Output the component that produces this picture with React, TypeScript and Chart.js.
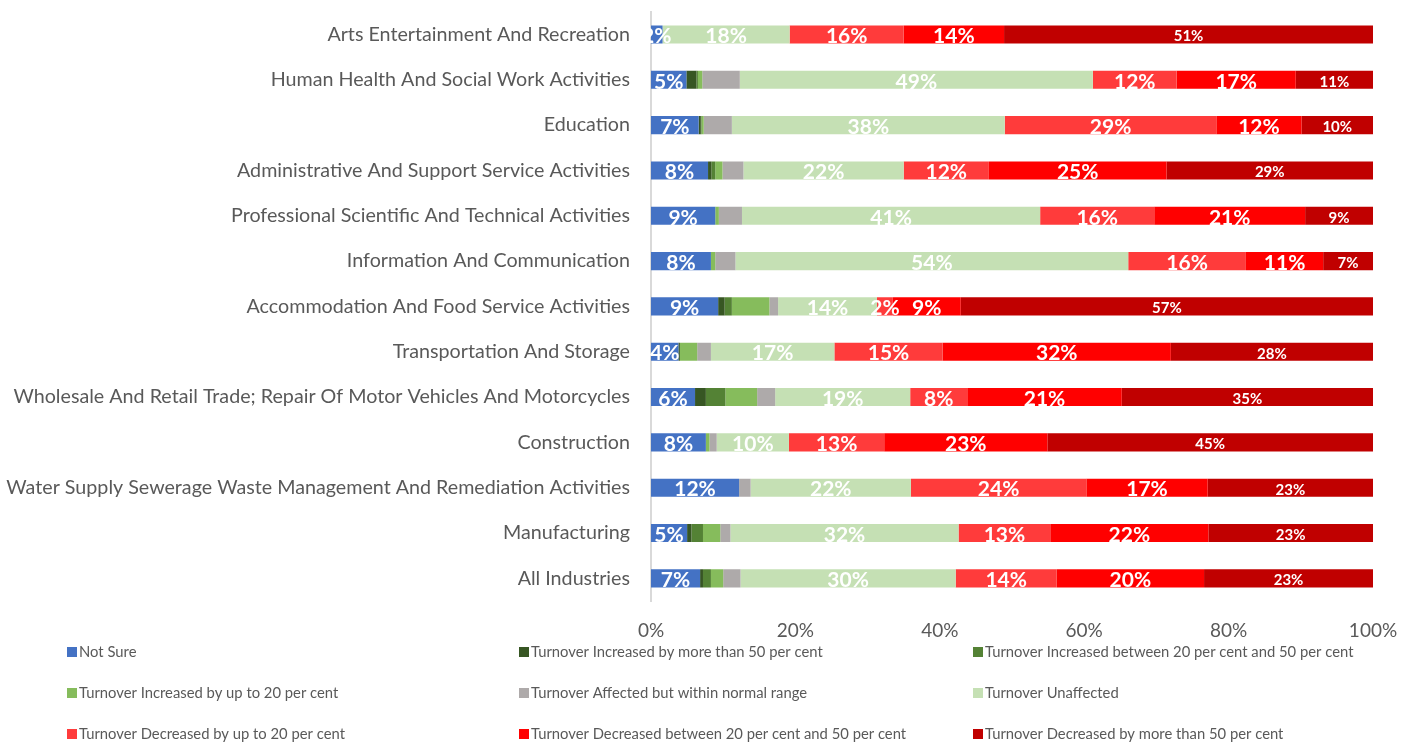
import React, { useEffect, useRef } from "react";
import { Chart, registerables } from "chart.js";

Chart.register(...registerables);

const categories = [
  "Arts Entertainment And Recreation",
  "Human Health And Social Work Activities",
  "Education",
  "Administrative And Support Service Activities",
  "Professional Scientific And Technical Activities",
  "Information And Communication",
  "Accommodation And Food Service Activities",
  "Transportation And Storage",
  "Wholesale And Retail Trade; Repair Of Motor Vehicles And Motorcycles",
  "Construction",
  "Water Supply Sewerage Waste Management And Remediation Activities",
  "Manufacturing",
  "All Industries",
];

const notSure = [1.6, 4.9, 6.6, 7.9, 8.9, 8.3, 9.3, 3.8, 6.1, 7.6, 12.2, 5.0, 6.8];
const incrMore50 = [0, 1.4, 0.3, 0.45, 0, 0, 0.9, 0.2, 1.5, 0, 0, 0.6, 0.4];
const incr20to50 = [0, 0.2, 0.1, 0.55, 0, 0, 1.0, 0, 2.7, 0, 0, 1.6, 1.1];
const incrUpTo20 = [0, 0.6, 0.3, 1.0, 0.5, 0.6, 5.2, 2.4, 4.4, 0.5, 0, 2.4, 1.7];
const affectedNormal = [0, 5.2, 3.9, 2.9, 3.2, 2.8, 1.2, 1.9, 2.5, 1.0, 1.6, 1.4, 2.4];
const unaffected = [17.6, 48.9, 37.8, 22.2, 41.3, 54.4, 13.7, 17.1, 18.7, 10.0, 22.2, 31.6, 29.8];
const decrUpTo20 = [15.8, 11.6, 29.3, 11.8, 15.8, 16.3, 2.2, 15.0, 7.9, 13.2, 24.3, 12.7, 14.0];
const decr20to50 = [13.9, 16.5, 11.8, 24.6, 20.9, 10.7, 9.4, 31.6, 21.4, 22.6, 16.8, 21.9, 20.4];
const decrMore50 = [51.1, 10.7, 9.9, 28.6, 9.4, 6.9, 57.1, 28.0, 34.8, 45.1, 22.9, 22.8, 23.4];

const xTickValues = [0, 20, 40, 60, 80, 100];

const seriesNames = [
  "Not Sure",
  "Turnover Increased by more than 50 per cent",
  "Turnover Increased between 20 per cent and 50 per cent",
  "Turnover Increased by up to 20 per cent",
  "Turnover Affected but within normal range",
  "Turnover Unaffected",
  "Turnover Decreased by up to 20 per cent",
  "Turnover Decreased between 20 per cent and 50 per cent",
  "Turnover Decreased by more than 50 per cent",
];

const seriesColors = [
  "#4472C4",
  "#375623",
  "#548235",
  "#86BC5C",
  "#AEAAAA",
  "#C5E0B4",
  "#FF3B3B",
  "#FF0000",
  "#C00000",
];

const seriesValues = [
  notSure,
  incrMore50,
  incr20to50,
  incrUpTo20,
  affectedNormal,
  unaffected,
  decrUpTo20,
  decr20to50,
  decrMore50,
];

const labelledBig = [0, 5, 6, 7];
const labelledSmall = [8];

const FONT = "Lato, 'Open Sans', sans-serif";

const labelPlugin = {
  id: "segmentLabels",
  afterDatasetsDraw(chart: any) {
    const ctx = chart.ctx;
    ctx.save();
    ctx.fillStyle = "#FFFFFF";
    ctx.textAlign = "center";
    ctx.textBaseline = "middle";
    const drawSet = (idx: number, font: string) => {
      const meta = chart.getDatasetMeta(idx);
      const data = chart.data.datasets[idx].data;
      ctx.font = font;
      meta.data.forEach((el: any, j: number) => {
        const v = data[j];
        if (!v) return;
        const cx = (el.x + el.base) / 2;
        ctx.fillText(Math.round(v) + "%", cx, el.y + 2);
      });
    };
    labelledBig.forEach((i) => drawSet(i, `bold 21px ${FONT}`));
    labelledSmall.forEach((i) => drawSet(i, `bold 15px ${FONT}`));
    ctx.restore();
  },
};

const legendPlugin = {
  id: "gridLegend",
  afterDraw(chart: any) {
    const ctx = chart.ctx;
    const cols = [67, 519, 973];
    const rows = [652, 693, 734];
    ctx.save();
    ctx.font = `14.8px ${FONT}`;
    ctx.textBaseline = "middle";
    ctx.textAlign = "left";
    chart.data.datasets.forEach((ds: any, i: number) => {
      const x = cols[i % 3];
      const y = rows[Math.floor(i / 3)];
      ctx.fillStyle = ds.backgroundColor;
      ctx.fillRect(x, y - 5, 10, 10);
      ctx.fillStyle = "#595959";
      ctx.fillText(ds.label, x + 12, y + 0.5);
    });
    ctx.restore();
  },
};

export default function App() {
  const canvasRef = useRef<HTMLCanvasElement | null>(null);

  useEffect(() => {
    let chart: Chart | null = null;
    let cancelled = false;
    const build = () => {
      if (cancelled || !canvasRef.current) return;
      chart = new Chart(canvasRef.current, {
        type: "bar",
        data: {
          labels: categories,
          datasets: seriesValues.map((vals, i) => ({
            label: seriesNames[i],
            data: vals,
            backgroundColor: seriesColors[i],
            borderWidth: 0,
            categoryPercentage: 1,
            barPercentage: 0.4,
          })),
        },
        options: {
          indexAxis: "y",
          responsive: false,
          animation: false,
          layout: { padding: { top: 11, right: 28, left: 0, bottom: 0 } },
          plugins: {
            legend: { display: false },
            tooltip: { enabled: false },
          },
          scales: {
            x: {
              stacked: true,
              min: 0,
              max: 100,
              afterBuildTicks: (s: any) => {
                s.ticks = xTickValues.map((v) => ({ value: v }));
              },
              ticks: {
                callback: (v: any) => v + "%",
                color: "#595959",
                font: { family: FONT, size: 19 },
                padding: 0,
                maxRotation: 0,
              },
              grid: { display: false, drawTicks: true, tickLength: 18 },
              border: { display: false },
              afterFit: (s: any) => {
                s.height = 142;
              },
            },
            y: {
              stacked: true,
              grid: { display: false, drawTicks: true, tickLength: 21 },
              border: { display: true, color: "#D9D9D9", width: 2 },
              ticks: {
                color: "#595959",
                font: { family: FONT, size: 19.7 },
                padding: 0,
                autoSkip: false,
              },
              afterFit: (s: any) => {
                s.width = 651;
              },
            },
          },
        },
        plugins: [labelPlugin, legendPlugin],
      });
    };
    const fontsReady = (document as any).fonts
      ? Promise.all([
          (document as any).fonts.load(`20px Lato`),
          (document as any).fonts.load(`bold 21px Lato`),
        ]).catch(() => null)
      : Promise.resolve(null);
    fontsReady.then(build);
    return () => {
      cancelled = true;
      if (chart) chart.destroy();
    };
  }, []);

  return (
    <div style={{ position: "fixed", left: 0, top: 0, width: 1401, height: 743, background: "#FFFFFF" }}>
      <canvas ref={canvasRef} width={1401} height={743} style={{ display: "block" }} />
    </div>
  );
}
